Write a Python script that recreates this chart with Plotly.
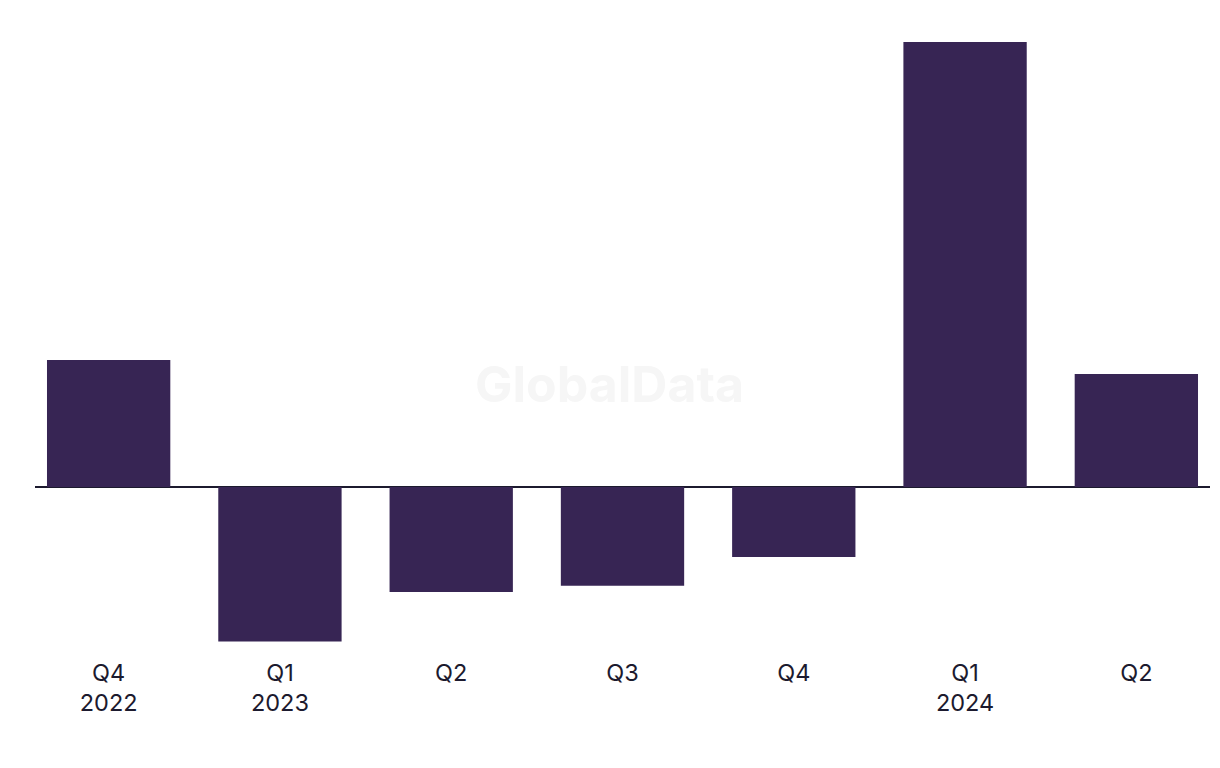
import plotly.graph_objects as go

quarters = ["Q4 2022", "Q1 2023", "Q2 2023", "Q3 2023", "Q4 2023", "Q1 2024", "Q2 2024"]
tick_labels = ["Q4<br>2022", "Q1<br>2023", "Q2", "Q3", "Q4", "Q1<br>2024", "Q2"]
values = [12.7, -15.45, -10.5, -9.87, -7.0, 44.5, 11.3]

BAR = "#372554"
TEXT = "#1c1a2e"

fig = go.Figure()
fig.add_trace(go.Bar(x=quarters, y=values, marker=dict(color=BAR, line=dict(width=0)),
                     hoverinfo="x+y"))

fig.add_annotation(text="<b>GlobalData</b>", xref="paper", yref="paper", x=0.489, y=0.429,
                   showarrow=False, font=dict(family="Inter", size=50, color="#f6f6f6"))

fig.update_layout(
    width=1212, height=760,
    margin=dict(l=27, r=10, t=22, b=118),
    paper_bgcolor="white", plot_bgcolor="white",
    bargap=0.28,
    showlegend=False,
    font=dict(family="Inter", color=TEXT),
    xaxis=dict(tickmode="array", tickvals=quarters, ticktext=tick_labels,
               range=[-0.43, 6.43], showgrid=False, showline=False, ticks="",
               ticklabelstandoff=6,
               tickfont=dict(size=23.5, color=TEXT)),
    yaxis=dict(range=[-16.3, 45.7], showgrid=False, showticklabels=False, ticks="",
               zeroline=True, zerolinecolor=TEXT, zerolinewidth=2),
)

fig.write_html("out.html")
